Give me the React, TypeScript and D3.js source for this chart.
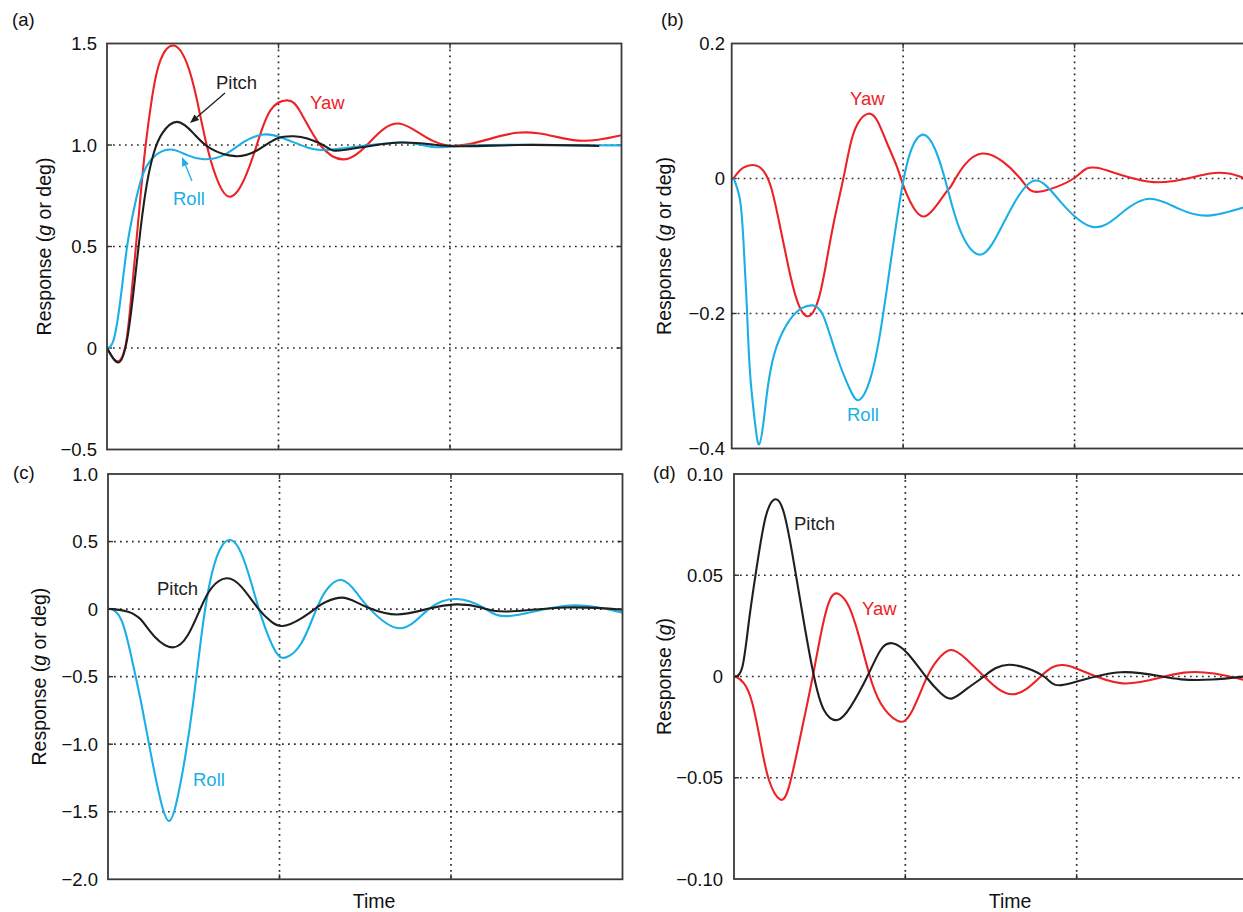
import React from 'react';
import * as d3 from 'd3';

type Pt = [number, number];

// ---------- shared axis data ----------
const timeDomain: [number, number] = [0, 30];
const timeGrid = [10, 20];

// ---------- panel (a) ----------
const aTicks = [-0.5, 0, 0.5, 1.0, 1.5];
const aTickLabels = ['\u22120.5', '0', '0.5', '1.0', '1.5'];
const aYaw: Pt[] = [[0, 0], [0.58, -0.066], [1.07, 0.008], [1.36, 0.204], [1.65, 0.467], [1.95, 0.745], [2.24, 0.99], [2.63, 1.236], [3.11, 1.417], [3.89, 1.49], [4.67, 1.40], [5.25, 1.22], [5.84, 0.99], [6.52, 0.81], [7.2, 0.745], [7.98, 0.827], [8.76, 1.007], [9.53, 1.171], [10.51, 1.22], [11.28, 1.163], [12.43, 1.0], [13.8, 0.929], [15.16, 1.0], [17.1, 1.105], [19.9, 0.997], [23.9, 1.06], [27.2, 1.024], [30, 1.048]];
const aPitch: Pt[] = [[0, 0], [0.68, -0.071], [1.17, 0.041], [1.56, 0.287], [1.95, 0.581], [2.33, 0.811], [2.72, 0.958], [3.21, 1.056], [4.09, 1.114], [5.06, 1.056], [6.03, 0.983], [7.49, 0.945], [8.76, 0.974], [9.92, 1.032], [10.9, 1.043], [11.68, 1.032], [12.8, 0.99], [13.8, 0.975], [17.1, 1.012], [20, 0.995], [24, 1.0], [28.7, 0.995]];
const aRoll: Pt[] = [[0, 0], [0.39, 0.041], [0.78, 0.237], [1.17, 0.499], [1.56, 0.68], [2.04, 0.843], [2.72, 0.941], [3.7, 0.978], [4.67, 0.95], [5.64, 0.93], [6.81, 0.95], [7.98, 1.015], [9.15, 1.052], [10.32, 1.032], [11.68, 0.988], [13.4, 0.98], [17.1, 1.012], [19, 0.99], [22, 1.0], [30, 0.998]];

// ---------- panel (b) ----------
const bTicks = [-0.4, -0.2, 0, 0.2];
const bTickLabels = ['\u22120.4', '\u22120.2', '0', '0.2'];
const bYaw: Pt[] = [[0.1, 0], [0.68, 0.016], [1.46, 0.019], [1.94, 0.008], [2.33, -0.016], [2.82, -0.071], [3.30, -0.13], [3.79, -0.179], [4.41, -0.204], [5.06, -0.179], [5.55, -0.12], [6.03, -0.056], [6.52, 0.001], [7.0, 0.058], [7.49, 0.087], [7.97, 0.096], [8.46, 0.087], [9.05, 0.053], [9.63, 0.018], [10.02, -0.011], [10.6, -0.043], [11.28, -0.056], [12.06, -0.036], [12.64, -0.016], [12.94, -0.005], [14.6, 0.037], [16.83, 0], [17.9, -0.0197], [19.94, 0], [21.3, 0.0158], [24.6, -0.0054], [27.9, 0.0074], [29.85, 0.001]];
const bRoll: Pt[] = [[0.12, 0], [0.48, -0.031], [0.68, -0.09], [0.88, -0.189], [1.07, -0.288], [1.36, -0.362], [1.59, -0.394], [1.85, -0.362], [2.14, -0.303], [2.63, -0.248], [3.40, -0.209], [4.09, -0.192], [4.73, -0.188], [5.35, -0.204], [6.13, -0.263], [6.91, -0.313], [7.45, -0.328], [8.07, -0.298], [8.66, -0.229], [9.24, -0.13], [9.82, -0.031], [10.41, 0.038], [11.15, 0.065], [11.87, 0.043], [12.55, -0.011], [13.3, -0.075], [14.4, -0.1126], [15.4, -0.088], [16.4, -0.04], [17.7, -0.003], [19.2, -0.035], [21.1, -0.072], [22.8, -0.05], [24.4, -0.03], [26.1, -0.045], [27.8, -0.055], [29.85, -0.043]];

// ---------- panel (c) ----------
const cTicks = [-2.0, -1.5, -1.0, -0.5, 0, 0.5, 1.0];
const cTickLabels = ['\u22122.0', '\u22121.5', '\u22121.0', '\u22120.5', '0', '0.5', '1.0'];
const cPitch: Pt[] = [[0, 0], [0.29, 0], [1.17, -0.019], [1.94, -0.081], [2.72, -0.204], [3.79, -0.283], [4.66, -0.192], [5.35, -0.007], [6.02, 0.154], [6.9, 0.228], [7.77, 0.166], [8.75, 0.006], [9.52, -0.093], [10.2, -0.125], [11.27, -0.068], [12.24, 0.018], [12.73, 0.055], [13.63, 0.085], [14.5, 0.05], [15.37, 0], [16.83, -0.04], [18.6, 0], [20.3, 0.035], [21.8, 0.01], [23.25, -0.018], [26.7, 0.012], [30, -0.005]];
const cRoll: Pt[] = [[0, 0], [0.19, 0], [0.78, -0.081], [1.36, -0.352], [1.94, -0.697], [2.53, -1.092], [3.11, -1.437], [3.56, -1.568], [3.98, -1.437], [4.47, -1.117], [4.96, -0.697], [5.44, -0.204], [5.93, 0.191], [6.51, 0.437], [7.15, 0.511], [7.77, 0.413], [8.36, 0.191], [8.94, -0.056], [9.72, -0.303], [10.4, -0.357], [11.27, -0.253], [12.05, -0.031], [12.73, 0.141], [13.63, 0.215], [14.5, 0.12], [15.28, 0], [17.03, -0.142], [18.7, 0], [20.33, 0.075], [21.9, 0.01], [23.44, -0.051], [26.75, 0.025], [30, -0.026]];

// ---------- panel (d) ----------
const dTicks = [-0.1, -0.05, 0, 0.05, 0.1];
const dTickLabels = ['\u22120.10', '\u22120.05', '0', '0.05', '0.10'];
const dPitch: Pt[] = [[0, 0], [0.1, 0], [0.49, 0.0048], [0.88, 0.0279], [1.36, 0.0559], [1.85, 0.0789], [2.39, 0.0875], [2.92, 0.0806], [3.5, 0.0559], [4.09, 0.0263], [4.67, 0], [5.25, -0.0165], [6.03, -0.0215], [6.81, -0.0149], [7.78, 0], [8.56, 0.0131], [9.24, 0.0164], [10.12, 0.0115], [11.19, 0], [12.07, -0.0083], [12.74, -0.0108], [13.6, -0.006], [14.58, 0], [16.04, 0.0058], [18.09, 0], [19.26, -0.0041], [22.57, 0.0021], [26.1, -0.0014], [29.77, 0]];
const dYaw: Pt[] = [[0, 0], [0.1, 0], [0.58, -0.0034], [1.07, -0.0132], [1.56, -0.033], [2.04, -0.0511], [2.69, -0.0607], [3.21, -0.0544], [3.79, -0.033], [4.28, -0.0132], [4.67, 0.0032], [5.16, 0.0246], [5.64, 0.0386], [6.13, 0.0407], [6.71, 0.0345], [7.3, 0.0197], [7.88, 0.0016], [8.56, -0.0132], [9.53, -0.0218], [10.32, -0.0182], [11.19, -0.0017], [11.87, 0.0081], [12.65, 0.0131], [13.5, 0.009], [14.6, 0], [16.24, -0.0088], [17.9, 0], [19.55, 0.0052], [22.67, -0.0034], [26.27, 0.0019], [29.77, -0.0017]];

// ---------- styles ----------
const RED = '#ec2227';
const BLUE = '#1aafe6';
const BLACK = '#1f1f1f';
const FONT = '"Liberation Sans", Arial, Helvetica, sans-serif';

interface Series { data: Pt[]; color: string; }
interface Note { text: string; x: number; y: number; color: string; }
interface Arrow { x1: number; y1: number; x2: number; y2: number; color: string; }

interface PanelProps {
  id: string;
  box: [number, number, number, number]; // x0, x1, y0(top), y1(bottom)
  yDomain: [number, number];
  ticks: number[];
  tickLabels: string[];
  tickX: number;
  series: Series[];
  notes: Note[];
  arrows?: Arrow[];
  tag: string;
  tagPos: [number, number];
  yLabel: React.ReactNode;
  yLabelX: number;
  timeLabel?: [number, number];
}

function Panel(p: PanelProps) {
  const [x0, x1, y0, y1] = p.box;
  const x = d3.scaleLinear().domain(timeDomain).range([x0, x1]);
  const y = d3.scaleLinear().domain(p.yDomain).range([y1, y0]);
  const line = d3.line<Pt>().x(d => x(d[0])).y(d => y(d[1])).curve(d3.curveNatural);
  const gridStyle = { stroke: '#2b2b2b', strokeWidth: 1.7, strokeDasharray: '1.7 4.3', fill: 'none' } as const;
  const innerTicks = p.ticks.filter(t => t > p.yDomain[0] && t < p.yDomain[1]);
  const tl = 5;
  return (
    <g>
      <defs>
        <clipPath id={`clip-${p.id}`}>
          <rect x={x0} y={y0} width={x1 - x0} height={y1 - y0} />
        </clipPath>
      </defs>
      {innerTicks.map(t => (
        <line key={`hy${t}`} x1={x0} x2={x1} y1={y(t)} y2={y(t)} style={gridStyle} />
      ))}
      {timeGrid.map(t => (
        <line key={`vx${t}`} x1={x(t)} x2={x(t)} y1={y0} y2={y1} style={gridStyle} />
      ))}
      {innerTicks.map(t => (
        <g key={`ty${t}`}>
          <line x1={x0} x2={x0 + tl} y1={y(t)} y2={y(t)} stroke="#333" strokeWidth={1.4} />
          <line x1={x1} x2={x1 - tl} y1={y(t)} y2={y(t)} stroke="#333" strokeWidth={1.4} />
        </g>
      ))}
      {timeGrid.map(t => (
        <g key={`tx${t}`}>
          <line x1={x(t)} x2={x(t)} y1={y1} y2={y1 - tl} stroke="#333" strokeWidth={1.4} />
          <line x1={x(t)} x2={x(t)} y1={y0} y2={y0 + tl} stroke="#333" strokeWidth={1.4} />
        </g>
      ))}
      <g clipPath={`url(#clip-${p.id})`}>
        {p.series.map((s, i) => (
          <path key={i} d={line(s.data) || ''} fill="none" stroke={s.color} strokeWidth={2.1} strokeLinejoin="round" />
        ))}
      </g>
      <rect x={x0} y={y0} width={x1 - x0} height={y1 - y0} fill="none" stroke="#3a3a3a" strokeWidth={1.8} />
      {p.ticks.map((t, i) => (
        <text key={`tl${t}`} x={p.tickX} y={y(t)} dy="0.36em" textAnchor="end" fontSize={18.5} fontFamily={FONT} fill="#111">
          {p.tickLabels[i]}
        </text>
      ))}
      {p.notes.map((n, i) => (
        <text key={`n${i}`} x={n.x} y={n.y} dy="0.36em" fontSize={18.5} fontFamily={FONT} fill={n.color}>
          {n.text}
        </text>
      ))}
      {(p.arrows || []).map((a, i) => {
        const ang = Math.atan2(a.y2 - a.y1, a.x2 - a.x1);
        const L = 9, W = 3.6;
        const bx = a.x2 - L * Math.cos(ang), by = a.y2 - L * Math.sin(ang);
        const px = -Math.sin(ang) * W, py = Math.cos(ang) * W;
        return (
          <g key={`a${i}`}>
            <line x1={a.x1} y1={a.y1} x2={bx} y2={by} stroke={a.color} strokeWidth={1.3} />
            <polygon points={`${a.x2},${a.y2} ${bx + px},${by + py} ${bx - px},${by - py}`} fill={a.color} />
          </g>
        );
      })}
      <text x={p.tagPos[0]} y={p.tagPos[1]} fontSize={18.5} fontFamily={FONT} fill="#111">{p.tag}</text>
      <text transform={`translate(${p.yLabelX},${(y0 + y1) / 2}) rotate(-90)`} dy="0.36em" textAnchor="middle" fontSize={19.5} fontFamily={FONT} fill="#111">
        {p.yLabel}
      </text>
      {p.timeLabel && (
        <text x={p.timeLabel[0]} y={p.timeLabel[1]} textAnchor="middle" fontSize={19.5} fontFamily={FONT} fill="#111">Time</text>
      )}
    </g>
  );
}

const gOrDeg = (<>Response (<tspan fontStyle="italic">g</tspan> or deg)</>);
const gOnly = (<>Response (<tspan fontStyle="italic">g</tspan>)</>);

export default function App() {
  return (
    <svg width={1243} height={912} viewBox="0 0 1243 912" style={{ position: 'absolute', left: 0, top: 0, background: '#fff' }}>
      <rect x={0} y={0} width={1243} height={912} fill="#fff" />
      <Panel id="a" box={[107, 621.5, 43.5, 449.5]} yDomain={[-0.5, 1.5]} ticks={aTicks} tickLabels={aTickLabels} tickX={97}
        series={[{ data: aYaw, color: RED }, { data: aRoll, color: BLUE }, { data: aPitch, color: BLACK }]}
        notes={[{ text: 'Pitch', x: 216, y: 82, color: BLACK }, { text: 'Yaw', x: 310, y: 102, color: RED }, { text: 'Roll', x: 173, y: 198, color: BLUE }]}
        arrows={[{ x1: 225, y1: 93, x2: 190, y2: 123, color: BLACK }, { x1: 192, y1: 181, x2: 182, y2: 157, color: BLUE }]}
        tag="(a)" tagPos={[12, 26]} yLabel={gOrDeg} yLabelX={44} />
      <Panel id="b" box={[731.7, 1246, 43.5, 448.5]} yDomain={[-0.4, 0.2]} ticks={bTicks} tickLabels={bTickLabels} tickX={725}
        series={[{ data: bYaw, color: RED }, { data: bRoll, color: BLUE }]}
        notes={[{ text: 'Yaw', x: 850, y: 98, color: RED }, { text: 'Roll', x: 847, y: 414, color: BLUE }]}
        tag="(b)" tagPos={[661, 26]} yLabel={gOrDeg} yLabelX={664} />
      <Panel id="c" box={[108, 622.5, 474, 879.3]} yDomain={[-2.0, 1.0]} ticks={cTicks} tickLabels={cTickLabels} tickX={98}
        series={[{ data: cRoll, color: BLUE }, { data: cPitch, color: BLACK }]}
        notes={[{ text: 'Pitch', x: 157, y: 588, color: BLACK }, { text: 'Roll', x: 193, y: 779, color: BLUE }]}
        tag="(c)" tagPos={[13, 479]} yLabel={gOrDeg} yLabelX={39} timeLabel={[374, 908]} />
      <Panel id="d" box={[734, 1248, 474, 879]} yDomain={[-0.1, 0.1]} ticks={dTicks} tickLabels={dTickLabels} tickX={723}
        series={[{ data: dYaw, color: RED }, { data: dPitch, color: BLACK }]}
        notes={[{ text: 'Pitch', x: 794, y: 523, color: BLACK }, { text: 'Yaw', x: 862, y: 608, color: RED }]}
        tag="(d)" tagPos={[653, 479]} yLabel={gOnly} yLabelX={664} timeLabel={[1010, 908]} />
    </svg>
  );
}
